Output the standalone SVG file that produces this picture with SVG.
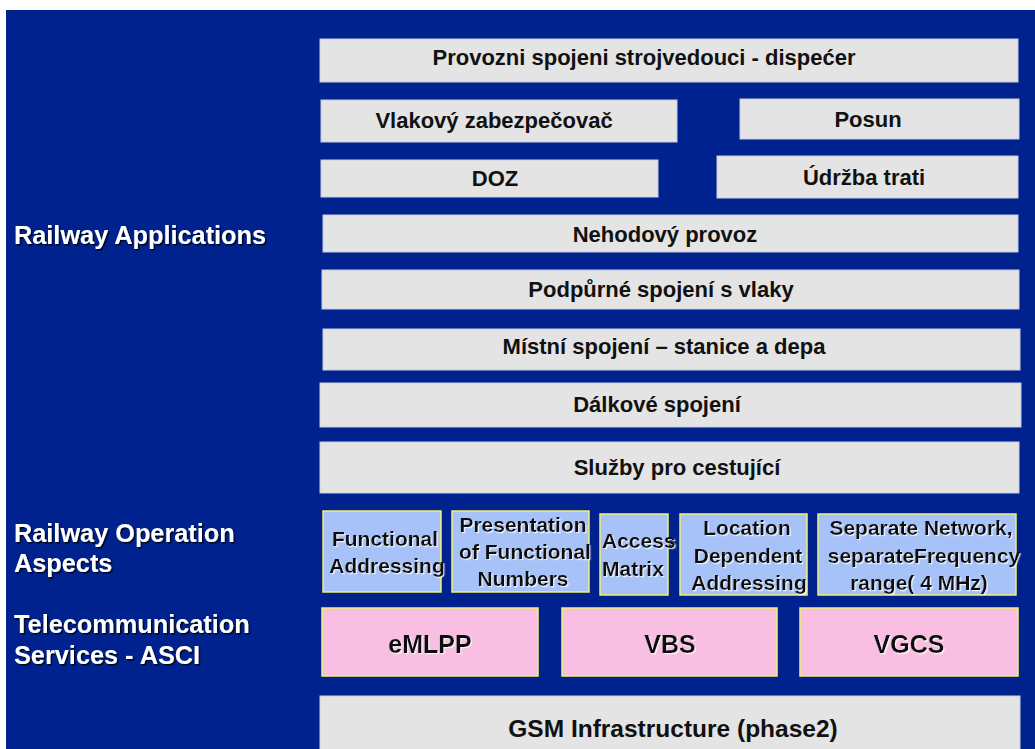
<svg xmlns="http://www.w3.org/2000/svg" width="1035" height="749" viewBox="0 0 1035 749">
  <style>
    .gray { fill: #e4e4e4; stroke: #c9cbe0; stroke-width: 1; }
    .aspect { fill: #a6c2f8; stroke: #f4f070; stroke-width: 1.5; }
    .asci { fill: #f9bfe3; stroke: #f4f070; stroke-width: 1.5; }
    text { font-family: "Liberation Sans", Arial, sans-serif; font-weight: bold; }
    .t { font-size: 22px; fill: #111; text-anchor: middle; }
    .ta { font-size: 21px; fill: #111; text-anchor: middle; filter: url(#lightShadow); }
    .tp { font-size: 25px; fill: #111; text-anchor: middle; filter: url(#lightShadow); }
    .lbl { font-size: 25.3px; fill: #fff; filter: url(#darkShadow); }
  </style>
  <defs>
    <filter id="darkShadow" x="-5%" y="-20%" width="110%" height="140%">
      <feDropShadow dx="1.5" dy="1.5" stdDeviation="0.6" flood-color="#000" flood-opacity="0.8"/>
    </filter>
    <filter id="lightShadow" x="-5%" y="-20%" width="110%" height="140%">
      <feDropShadow dx="1.2" dy="1.2" stdDeviation="0.4" flood-color="#fff" flood-opacity="0.8"/>
    </filter>
  </defs>

  <!-- page and panel background -->
  <rect x="0" y="0" width="1035" height="749" fill="#ffffff"/>
  <rect x="6" y="10" width="1029" height="739" fill="#00228f"/>

  <!-- layer labels -->
  <g id="labels">
    <text class="lbl" x="14" y="244">Railway Applications</text>
    <text class="lbl" x="14" y="542">Railway Operation</text>
    <text class="lbl" x="14" y="572">Aspects</text>
    <text class="lbl" x="14" y="633">Telecommunication</text>
    <text class="lbl" x="14" y="664">Services - ASCI</text>
  </g>

  <!-- railway applications -->
  <g id="provozni">
    <rect class="gray" x="320" y="39" width="698" height="43"/>
    <text class="t" x="644" y="65">Provozni spojeni strojvedouci - dispećer</text>
  </g>
  <g id="vlakovy">
    <rect class="gray" x="321" y="100" width="356" height="42"/>
    <text class="t" x="494" y="128">Vlakový zabezpečovač</text>
  </g>
  <g id="posun">
    <rect class="gray" x="740" y="99" width="279" height="40"/>
    <text class="t" x="868" y="127">Posun</text>
  </g>
  <g id="doz">
    <rect class="gray" x="321" y="160" width="337" height="37"/>
    <text class="t" x="495" y="186">DOZ</text>
  </g>
  <g id="udrzba">
    <rect class="gray" x="717" y="156" width="301" height="42"/>
    <text class="t" x="864" y="185">Údržba trati</text>
  </g>
  <g id="nehodovy">
    <rect class="gray" x="323" y="215" width="695" height="37"/>
    <text class="t" x="665" y="242">Nehodový provoz</text>
  </g>
  <g id="podpurne">
    <rect class="gray" x="322" y="270" width="697" height="39"/>
    <text class="t" x="661" y="297">Podpůrné spojení s vlaky</text>
  </g>
  <g id="mistni">
    <rect class="gray" x="323" y="329" width="697" height="41"/>
    <text class="t" x="664" y="354">Místní spojení – stanice a depa</text>
  </g>
  <g id="dalkove">
    <rect class="gray" x="320" y="383" width="701" height="44"/>
    <text class="t" x="657" y="412">Dálkové spojení</text>
  </g>
  <g id="sluzby">
    <rect class="gray" x="320" y="442" width="699" height="51"/>
    <text class="t" x="677" y="475">Služby pro cestující</text>
  </g>

  <!-- railway operation aspects -->
  <g id="functional-addressing">
    <rect class="aspect" x="323" y="511" width="118" height="81"/>
    <text class="ta" x="385" y="546">Functional</text>
    <text class="ta" x="387" y="573">Addressing</text>
  </g>
  <g id="presentation">
    <rect class="aspect" x="452" y="511" width="137" height="81"/>
    <text class="ta" x="523" y="532">Presentation</text>
    <text class="ta" x="525" y="559">of Functional</text>
    <text class="ta" x="523" y="586">Numbers</text>
  </g>
  <g id="access-matrix">
    <rect class="aspect" x="600" y="514" width="68" height="81"/>
    <text class="ta" x="602" y="548" style="text-anchor:start">Access</text>
    <text class="ta" x="602" y="576" style="text-anchor:start">Matrix</text>
  </g>
  <g id="location">
    <rect class="aspect" x="680" y="514" width="127" height="81"/>
    <text class="ta" x="747" y="535">Location</text>
    <text class="ta" x="748" y="563">Dependent</text>
    <text class="ta" x="749" y="590">Addressing</text>
  </g>
  <g id="separate-network">
    <rect class="aspect" x="818" y="514" width="198" height="81"/>
    <text class="ta" x="921" y="535">Separate Network,</text>
    <text class="ta" x="924" y="563">separateFrequency</text>
    <text class="ta" x="919" y="590">range( 4 MHz)</text>
  </g>

  <!-- ASCI services -->
  <g id="emlpp">
    <rect class="asci" x="322" y="608" width="216" height="68"/>
    <text class="tp" x="430" y="653">eMLPP</text>
  </g>
  <g id="vbs">
    <rect class="asci" x="562" y="608" width="215" height="68"/>
    <text class="tp" x="670" y="653">VBS</text>
  </g>
  <g id="vgcs">
    <rect class="asci" x="800" y="608" width="218" height="68"/>
    <text class="tp" x="909" y="653">VGCS</text>
  </g>

  <!-- infrastructure -->
  <g id="gsm">
    <rect class="gray" x="320" y="696" width="700" height="60"/>
    <text class="t" x="673" y="737" style="font-size:24.5px">GSM Infrastructure (phase2)</text>
  </g>

  <g id="connectors"></g>
</svg>
